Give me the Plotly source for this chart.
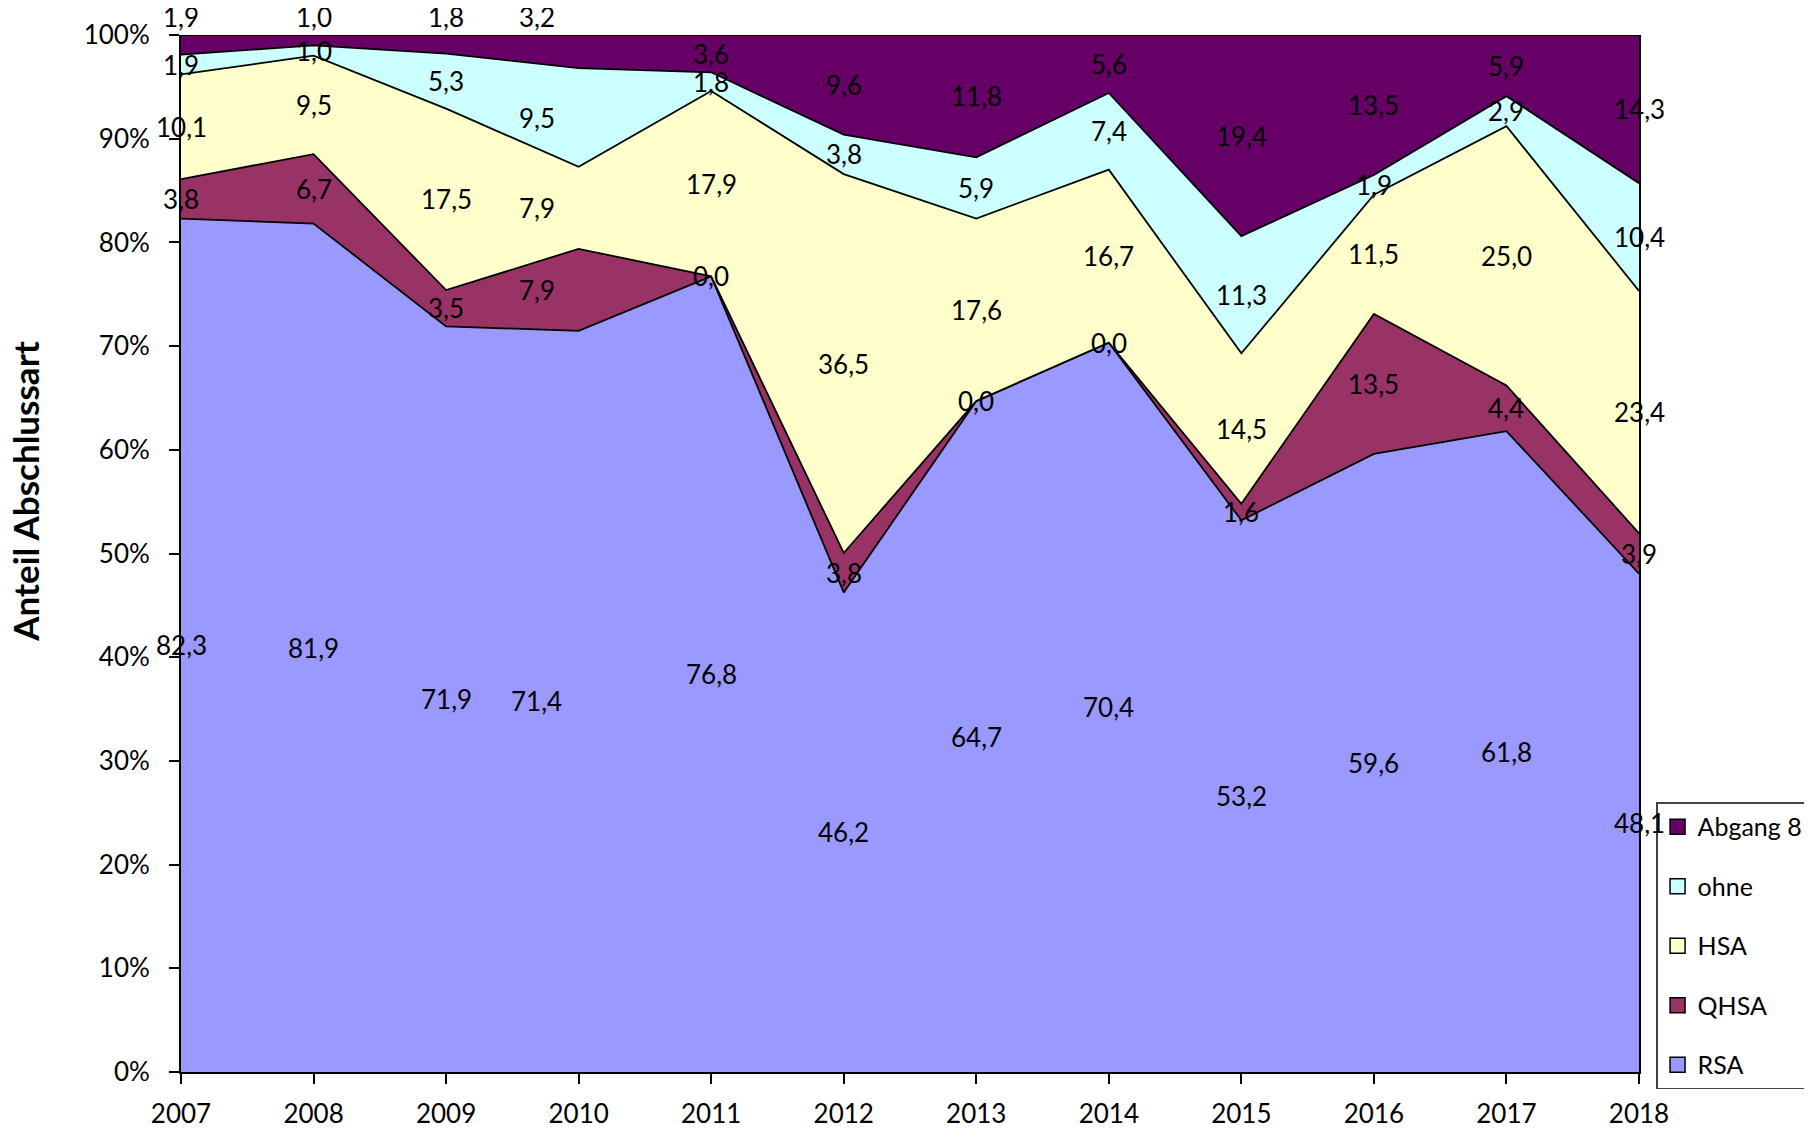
import plotly.graph_objects as go

years = [2007, 2008, 2009, 2010, 2011, 2012, 2013, 2014, 2015, 2016, 2017, 2018]
rsa = [82.3, 81.9, 71.9, 71.4, 76.8, 46.2, 64.7, 70.4, 53.2, 59.6, 61.8, 48.1]
qhsa = [3.8, 6.7, 3.5, 7.9, 0.0, 3.8, 0.0, 0.0, 1.6, 13.5, 4.4, 3.9]
hsa = [10.1, 9.5, 17.5, 7.9, 17.9, 36.5, 17.6, 16.7, 14.5, 11.5, 25.0, 23.4]
ohne = [1.9, 1.0, 5.3, 9.5, 1.8, 3.8, 5.9, 7.4, 11.3, 1.9, 2.9, 10.4]
abgang8 = [1.9, 1.0, 1.8, 3.2, 3.6, 9.6, 11.8, 5.6, 19.4, 13.5, 5.9, 14.3]

series = [
    ("RSA", rsa, "#9999FF"),
    ("QHSA", qhsa, "#993366"),
    ("HSA", hsa, "#FFFFCC"),
    ("ohne", ohne, "#CCFFFF"),
    ("Abgang 8", abgang8, "#660066"),
]

FONT = "Lato, Calibri, 'Open Sans', sans-serif"
fig = go.Figure()
n = len(series)
for k, (name, vals, col) in enumerate(series):
    fig.add_trace(go.Scatter(
        x=years, y=vals, name=name, mode="lines",
        stackgroup="one", groupnorm="percent",
        line=dict(color="black", width=1.8), fillcolor=col,
        showlegend=False, hoverinfo="skip",
    ))
# legend entries as square swatches
for k, (name, vals, col) in enumerate(series):
    fig.add_trace(go.Scatter(
        x=[None], y=[None], name=name, mode="markers",
        marker=dict(symbol="square", size=15, color=col, line=dict(color="black", width=1.5)),
        legendgroup=name, legendrank=n - k, showlegend=True,
    ))

# data labels at the middle of each band
annotations = []
for i, yr in enumerate(years):
    total = sum(s[1][i] for s in series)
    cum = 0.0
    for k, (name, vals, col) in enumerate(series):
        v = vals[i] / total * 100
        mid = cum + v / 2
        cum += v
        txt = f"{vals[i]:.1f}".replace(".", ",")
        xshift = -42 if yr == 2010 else 0
        if name == "Abgang 8" and vals[i] < 3.5:
            annotations.append(dict(x=yr, y=100, xref="x", yref="y", text=txt,
                                    showarrow=False, yanchor="bottom", xshift=xshift,
                                    font=dict(family=FONT, size=26, color="black")))
        else:
            annotations.append(dict(x=yr, y=mid, xref="x", yref="y", text=txt,
                                    showarrow=False, yanchor="middle", xshift=xshift,
                                    font=dict(family=FONT, size=26, color="black")))

# y-axis title (placed like the original, above the plot's vertical centre)
annotations.append(dict(
    x=-0.1067, y=0.56, xref="paper", yref="paper", text="<b>Anteil Abschlussart</b>",
    textangle=-90, showarrow=False, xanchor="center", yanchor="middle",
    font=dict(family=FONT, size=35, color="black"),
))

fig.update_layout(
    width=1804, height=1124,
    margin=dict(l=173, r=173, t=27, b=60, autoexpand=False),
    paper_bgcolor="white", plot_bgcolor="white",
    font=dict(family=FONT, size=26, color="black"),
    showlegend=True,
    legend=dict(
        x=1.0117, xanchor="left", y=0.26, yanchor="top",
        traceorder="grouped", tracegroupgap=24,
        bordercolor="#444444", borderwidth=1.5, bgcolor="white",
        font=dict(family=FONT, size=25, color="black"),
        itemwidth=30,
    ),
    xaxis=dict(
        range=[2007, 2018], tickmode="array", tickvals=years,
        ticktext=[str(y) for y in years],
        showgrid=False, zeroline=False, showline=True, linecolor="black", linewidth=2,
        ticks="outside", ticklen=10, tickcolor="black", tickwidth=1.5,
        tickfont=dict(family=FONT, size=26), ticklabelstandoff=8,
    ),
    yaxis=dict(
        range=[0, 100], tickmode="array", tickvals=list(range(0, 101, 10)),
        ticktext=[f"{v}%" for v in range(0, 101, 10)],
        showgrid=False, zeroline=False, showline=True, linecolor="black", linewidth=2,
        mirror=True,
        ticks="outside", ticklen=10, tickcolor="black", tickwidth=1.5,
        tickfont=dict(family=FONT, size=26), ticklabelstandoff=14,
    ),
    annotations=annotations,
)
fig.write_html("out.html")
